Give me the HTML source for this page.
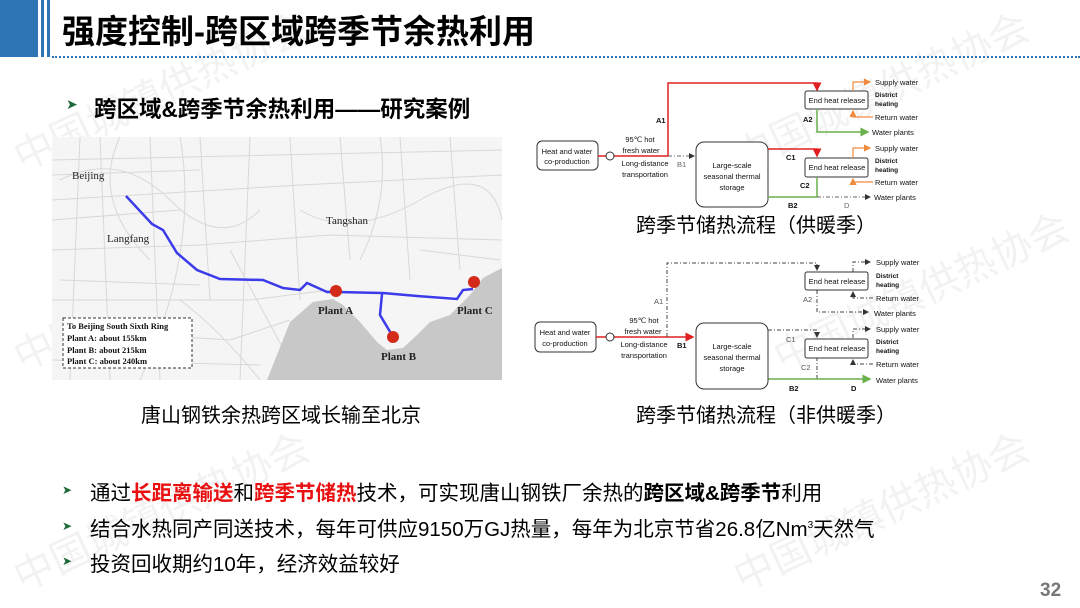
<!DOCTYPE html>
<html><head><meta charset="utf-8"><style>
body{margin:0;width:1080px;height:608px;overflow:hidden;background:#fff;font-family:"Liberation Sans","Noto Sans CJK SC",sans-serif;position:relative}
.a{position:absolute;white-space:nowrap}
.wm{position:absolute;color:rgba(0,0,0,0.05);font-size:40px;transform:rotate(-25deg);white-space:nowrap;font-family:"Noto Sans CJK SC",sans-serif}
</style></head><body>
<div class="a" style="left:0;top:0;width:38px;height:57px;background:#2e75b6"></div>
<div class="a" style="left:41px;top:0;width:3px;height:57px;background:#2e75b6"></div>
<div class="a" style="left:47px;top:0;width:3px;height:57px;background:#2e75b6"></div>
<div class="a" style="left:52px;top:56px;width:1028px;border-top:2px dotted #2e75b6"></div>
<div class="a" style="left:62px;top:5px;font-size:33px;font-weight:bold;color:#000">强度控制-跨区域跨季节余热利用</div>

<div class="wm" style="left:0;top:60px">中国城镇供热协会</div>
<div class="wm" style="left:720px;top:60px">中国城镇供热协会</div>
<div class="wm" style="left:0;top:260px">中国城镇供热协会</div>
<div class="wm" style="left:760px;top:260px">中国城镇供热协会</div>
<div class="wm" style="left:0;top:480px">中国城镇供热协会</div>
<div class="wm" style="left:720px;top:480px">中国城镇供热协会</div>

<div class="a" style="left:66px;top:96px;font-size:14px;color:#1e6b3a">➤</div>
<div class="a" style="left:94px;top:92px;font-size:22.5px;font-weight:bold">跨区域&amp;跨季节余热利用——研究案例</div>

<svg class="a" style="left:0;top:0" width="1080" height="608" font-family="Liberation Sans, sans-serif">
<defs>
<marker id="rk" markerWidth="6" markerHeight="6" refX="5" refY="3" orient="auto"><path d="M0,0L6,3L0,6z" fill="#e02020"/></marker>
<marker id="gk" markerWidth="6" markerHeight="6" refX="5" refY="3" orient="auto"><path d="M0,0L6,3L0,6z" fill="#6ab04c"/></marker>
<marker id="ok" markerWidth="6" markerHeight="6" refX="5" refY="3" orient="auto"><path d="M0,0L6,3L0,6z" fill="#f08a3c"/></marker>
<marker id="kk" markerWidth="6" markerHeight="6" refX="5" refY="3" orient="auto"><path d="M0,0L6,3L0,6z" fill="#333"/></marker>
</defs>
<rect x="52" y="137" width="450" height="243" fill="#f5f5f5"/>
<g stroke="#d8d8d8" stroke-width="1" fill="none">
<path d="M52,160 L502,150 M52,200 L300,185 L502,175 M52,250 L200,245 L330,235 L502,240 M52,300 L250,300 L330,290 M100,137 L110,380 M150,137 L160,380 M200,137 L210,300 M250,137 L240,380 M290,137 L300,300 M340,137 L350,260 M400,137 L410,280 M450,137 L460,270 M60,180 Q120,150 170,200 T260,210 M300,210 Q350,240 420,200 T502,220 M70,330 L230,340 L290,320 M52,360 L260,365 M120,137 Q90,200 150,260 M180,300 Q220,330 260,380 M52,175 L200,170 M80,137 L70,380 M180,137 Q200,250 140,380 M230,250 L300,380 M380,137 Q390,200 360,260 M420,250 L500,260 M52,220 L180,210 M60,280 L200,285"/>
</g>
<path d="M267,380 L290,322 L313,302 L333,299 L343,305 L360,322 L377,342 L387,350 L403,348 L417,335 L430,322 L450,315 L470,295 L483,278 L502,268 L502,380 Z" fill="#c8c8c8"/>
<path d="M126,196 L152,224 L163,230 L177,253 L197,270 L220,279 L263,280 L283,288 L300,290 L307,283 L327,292 L337,292 L383,293 L417,296 L457,299 L463,290 L473,289 M382,294 L380,315 L392,335" fill="none" stroke="#3b3bea" stroke-width="2.5"/>
<g fill="#d42a1a"><circle cx="336" cy="291" r="6"/><circle cx="393" cy="337" r="6"/><circle cx="474" cy="282" r="6"/></g>
<g font-family="Liberation Serif, serif" font-size="11" fill="#222">
<text x="72" y="179">Beijing</text><text x="107" y="242">Langfang</text><text x="326" y="224">Tangshan</text><text x="146" y="353">Tianjin</text>
<g font-weight="bold"><text x="318" y="314">Plant A</text><text x="381" y="360">Plant B</text><text x="457" y="314">Plant C</text></g>
</g>
<rect x="63" y="318" width="129" height="50" fill="#fff" stroke="#333" stroke-dasharray="3,2"/>
<g font-family="Liberation Serif, serif" font-size="8.5" font-weight="bold" fill="#111">
<text x="67" y="329">To Beijing South Sixth Ring</text><text x="67" y="341">Plant A: about 155km</text><text x="67" y="353">Plant B: about 215km</text><text x="67" y="364">Plant C: about 240km</text>
</g>

<g font-size="7.5" fill="#111">
<rect x="537" y="141" width="61" height="29" rx="5" fill="#fff" stroke="#333"/>
<text x="567" y="154" text-anchor="middle">Heat and water</text><text x="567" y="164" text-anchor="middle">co-production</text>
<path d="M598,156H606M614,156H668V83H817V90" fill="none" stroke="#e02020" stroke-width="1.5" marker-end="url(#rk)"/>
<circle cx="610" cy="156" r="4" fill="#fff" stroke="#333"/>
<path d="M668,156H694" stroke="#666" stroke-dasharray="4,2,1,2" marker-end="url(#kk)"/>
<rect x="696" y="142" width="72" height="65" rx="8" fill="#fff" stroke="#333"/>
<text x="732" y="168" text-anchor="middle">Large-scale</text><text x="732" y="179" text-anchor="middle">seasonal thermal</text><text x="732" y="190" text-anchor="middle">storage</text>
<rect x="805" y="91" width="63" height="18" rx="2" fill="#fff" stroke="#333"/><text x="837" y="103" text-anchor="middle">End heat release</text>
<rect x="805" y="158" width="63" height="19" rx="2" fill="#fff" stroke="#333"/><text x="837" y="170" text-anchor="middle">End heat release</text>
<path d="M768,149H817V156" fill="none" stroke="#e02020" stroke-width="1.5" marker-end="url(#rk)"/>
<path d="M817,109V132H868" fill="none" stroke="#6ab04c" stroke-width="1.5" marker-end="url(#gk)"/>
<path d="M817,177V197M768,197H817" fill="none" stroke="#6ab04c" stroke-width="1.5"/>
<path d="M817,197H870" stroke="#666" stroke-dasharray="4,2,1,2" marker-end="url(#kk)"/>
<g fill="none" stroke="#f08a3c" stroke-width="1.2">
<path d="M853,91V82H870" marker-end="url(#ok)"/><path d="M873,117H853V111" marker-end="url(#ok)"/>
<path d="M853,158V148H870" marker-end="url(#ok)"/><path d="M873,182H853V179" marker-end="url(#ok)"/>
</g>
<text x="875" y="85">Supply water</text><text x="875" y="120">Return water</text><text x="872" y="135">Water plants</text>
<text x="875" y="151">Supply water</text><text x="875" y="185">Return water</text><text x="874" y="200">Water plants</text>
<g font-weight="bold" font-size="6.5"><text x="875" y="97">District</text><text x="875" y="106">heating</text><text x="875" y="163">District</text><text x="875" y="172">heating</text></g>
<text x="640" y="142" text-anchor="middle">95℃ hot</text><text x="641" y="153" text-anchor="middle">fresh water</text>
<text x="645" y="166" text-anchor="middle">Long-distance</text><text x="645" y="177" text-anchor="middle">transportation</text>
<g font-weight="bold"><text x="656" y="123">A1</text><text x="803" y="122">A2</text><text x="786" y="160">C1</text><text x="800" y="188">C2</text><text x="788" y="208">B2</text></g>
<text x="677" y="167" fill="#666">B1</text><text x="844" y="208" fill="#666">D</text>
</g>

<g font-size="7.5" fill="#111">
<rect x="535" y="322" width="61" height="30" rx="5" fill="#fff" stroke="#333"/>
<text x="565" y="335" text-anchor="middle">Heat and water</text><text x="565" y="346" text-anchor="middle">co-production</text>
<path d="M596,337H606M614,337H693" fill="none" stroke="#e02020" stroke-width="1.5" marker-end="url(#rk)"/>
<circle cx="610" cy="337" r="4" fill="#fff" stroke="#333"/>
<g fill="none" stroke="#444" stroke-dasharray="4,2,1,2">
<path d="M667,337V263H817V270" marker-end="url(#kk)"/>
<path d="M817,290V312H868" marker-end="url(#kk)"/>
<path d="M768,330H817V337" marker-end="url(#kk)"/>
<path d="M817,357V379"/>
<path d="M853,272V262H870" marker-end="url(#kk)"/><path d="M873,298H853V292" marker-end="url(#kk)"/>
<path d="M853,338V329H870" marker-end="url(#kk)"/><path d="M873,364H853V360" marker-end="url(#kk)"/>
</g>
<path d="M768,379H870" stroke="#6ab04c" stroke-width="1.5" marker-end="url(#gk)"/>
<rect x="696" y="323" width="72" height="66" rx="8" fill="#fff" stroke="#333"/>
<text x="732" y="349" text-anchor="middle">Large-scale</text><text x="732" y="360" text-anchor="middle">seasonal thermal</text><text x="732" y="371" text-anchor="middle">storage</text>
<rect x="805" y="272" width="63" height="18" rx="2" fill="#fff" stroke="#333"/><text x="837" y="284" text-anchor="middle">End heat release</text>
<rect x="805" y="339" width="63" height="19" rx="2" fill="#fff" stroke="#333"/><text x="837" y="351" text-anchor="middle">End heat release</text>
<text x="876" y="265">Supply water</text><text x="876" y="301">Return water</text><text x="874" y="316">Water plants</text>
<text x="876" y="332">Supply water</text><text x="876" y="367">Return water</text><text x="876" y="383">Water plants</text>
<g font-weight="bold" font-size="6.5"><text x="876" y="278">District</text><text x="876" y="287">heating</text><text x="876" y="344">District</text><text x="876" y="353">heating</text></g>
<text x="644" y="323" text-anchor="middle">95℃ hot</text><text x="643" y="334" text-anchor="middle">fresh water</text>
<text x="644" y="347" text-anchor="middle">Long-distance</text><text x="644" y="358" text-anchor="middle">transportation</text>
<g fill="#555"><text x="654" y="304">A1</text><text x="803" y="302">A2</text><text x="786" y="342">C1</text><text x="801" y="370">C2</text></g>
<g font-weight="bold"><text x="677" y="348">B1</text><text x="789" y="391">B2</text><text x="851" y="391">D</text></g>
</g>
</svg>

<div class="a" style="left:636px;top:209px;font-size:20px">跨季节储热流程（供暖季）</div>
<div class="a" style="left:636px;top:399px;font-size:20px">跨季节储热流程（非供暖季）</div>
<div class="a" style="left:141px;top:399px;font-size:20px">唐山钢铁余热跨区域长输至北京</div>

<div class="a" style="left:62px;top:483px;font-size:12px;color:#1e6b3a">➤</div>
<div class="a" style="left:90px;top:476px;font-size:20.5px">通过<b style="color:#e81010">长距离输送</b>和<b style="color:#e81010">跨季节储热</b>技术，可实现唐山钢铁厂余热的<b>跨区域&amp;跨季节</b>利用</div>
<div class="a" style="left:62px;top:519px;font-size:12px;color:#1e6b3a">➤</div>
<div class="a" style="left:90px;top:512px;font-size:20.5px">结合水热同产同送技术，每年可供应9150万GJ热量，每年为北京节省26.8亿Nm<sup style="font-size:10px">3</sup>天然气</div>
<div class="a" style="left:62px;top:554px;font-size:12px;color:#1e6b3a">➤</div>
<div class="a" style="left:90px;top:547px;font-size:20.5px">投资回收期约10年，经济效益较好</div>
<div class="a" style="left:1040px;top:580px;font-size:19px;font-weight:bold;color:#777">32</div>
</body></html>
